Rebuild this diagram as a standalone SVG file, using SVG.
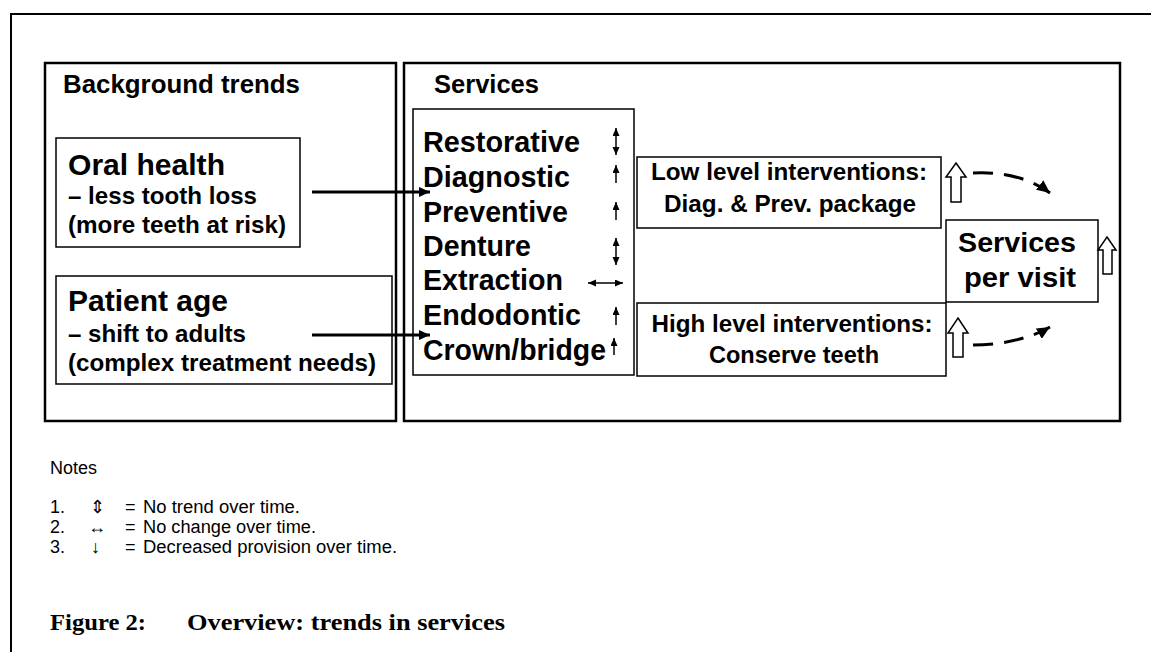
<svg xmlns="http://www.w3.org/2000/svg" width="1151" height="652" viewBox="0 0 1151 652">
<style>
.frame{fill:none;stroke:#000;stroke-width:2.5}
.box{fill:#fff;stroke:#000;stroke-width:1.5}
.b{font-family:"Liberation Sans",Arial,sans-serif;font-weight:bold;fill:#000}
.r{font-family:"Liberation Sans",Arial,sans-serif;fill:#000;font-size:18px}
.cap{font-family:"Liberation Serif","Times New Roman",serif;font-weight:bold;fill:#000}
.conn{fill:none;stroke:#000;stroke-width:3}
.dash{fill:none;stroke:#000;stroke-width:3;stroke-dasharray:20 11}
.thin{fill:none;stroke:#000;stroke-width:1.5}
.hollow{fill:#fff;stroke:#000;stroke-width:1.5;stroke-linejoin:miter}
</style>
<defs>
<marker id="ah" markerUnits="userSpaceOnUse" markerWidth="12" markerHeight="10" refX="11" refY="5" orient="auto"><path d="M0,0 L11,5 L0,10 z" fill="#000"/></marker>
<marker id="ahd" markerUnits="userSpaceOnUse" markerWidth="14" markerHeight="12" refX="13" refY="6" orient="auto"><path d="M0,0 L13,6 L0,12 z" fill="#000"/></marker>
<marker id="sm" markerUnits="userSpaceOnUse" markerWidth="8" markerHeight="8" refX="8" refY="3.5" orient="auto-start-reverse"><path d="M0,0 L8,3.5 L0,7 z" fill="#000"/></marker>
</defs>
<rect width="1151" height="652" fill="#fff"/>
<path d="M11,652 V14 H1151" fill="none" stroke="#000" stroke-width="2"/>

<g id="background-trends">
<rect class="frame" x="45" y="63" width="351" height="358"/>
<text class="b" x="63" y="93" font-size="26" textLength="237" lengthAdjust="spacingAndGlyphs">Background trends</text>
</g>
<g id="services">
<rect class="frame" x="404" y="63" width="716" height="358"/>
<text class="b" x="434" y="93" font-size="26" textLength="105" lengthAdjust="spacingAndGlyphs">Services</text>
</g>
<g id="oral-health">
<rect class="box" x="56" y="138" width="244" height="109"/>
<text class="b" x="68" y="175" font-size="30" textLength="157" lengthAdjust="spacingAndGlyphs">Oral health</text>
<text class="b" x="68" y="204" font-size="24" textLength="189" lengthAdjust="spacingAndGlyphs">– less tooth loss</text>
<text class="b" x="68" y="233" font-size="24" textLength="218" lengthAdjust="spacingAndGlyphs">(more teeth at risk)</text>
</g>
<g id="patient-age">
<rect class="box" x="56" y="276" width="336" height="108"/>
<text class="b" x="68" y="311" font-size="30" textLength="160" lengthAdjust="spacingAndGlyphs">Patient age</text>
<text class="b" x="68" y="342" font-size="24" textLength="178" lengthAdjust="spacingAndGlyphs">– shift to adults</text>
<text class="b" x="68" y="371" font-size="24" textLength="308" lengthAdjust="spacingAndGlyphs">(complex treatment needs)</text>
</g>
<g id="service-list">
<rect class="box" x="413" y="109" width="221" height="266"/>
<text class="b" x="423" y="152" font-size="29" textLength="157" lengthAdjust="spacingAndGlyphs">Restorative</text>
<text class="b" x="423" y="187" font-size="29" textLength="147" lengthAdjust="spacingAndGlyphs">Diagnostic</text>
<text class="b" x="423" y="222" font-size="29" textLength="145" lengthAdjust="spacingAndGlyphs">Preventive</text>
<text class="b" x="423" y="256" font-size="29" textLength="108" lengthAdjust="spacingAndGlyphs">Denture</text>
<text class="b" x="423" y="290" font-size="29" textLength="140" lengthAdjust="spacingAndGlyphs">Extraction</text>
<text class="b" x="423" y="325" font-size="29" textLength="158" lengthAdjust="spacingAndGlyphs">Endodontic</text>
<text class="b" x="423" y="360" font-size="29" textLength="183" lengthAdjust="spacingAndGlyphs">Crown/bridge</text>
<line class="thin" x1="616" y1="128" x2="616" y2="155" marker-start="url(#sm)" marker-end="url(#sm)"/>
<line class="thin" x1="616" y1="183" x2="616" y2="165" marker-end="url(#sm)"/>
<line class="thin" x1="616" y1="220" x2="616" y2="202" marker-end="url(#sm)"/>
<line class="thin" x1="616" y1="238" x2="616" y2="265" marker-start="url(#sm)" marker-end="url(#sm)"/>
<line class="thin" x1="588" y1="283" x2="623" y2="283" marker-start="url(#sm)" marker-end="url(#sm)"/>
<line class="thin" x1="616" y1="325" x2="616" y2="307" marker-end="url(#sm)"/>
<line class="thin" x1="614" y1="355" x2="614" y2="338" marker-end="url(#sm)"/>
</g>
<g id="low-level">
<rect class="box" x="637" y="157" width="304" height="71"/>
<text class="b" x="789" y="180" font-size="24" text-anchor="middle" textLength="276" lengthAdjust="spacingAndGlyphs">Low level interventions:</text>
<text class="b" x="790" y="212" font-size="24" text-anchor="middle" textLength="252" lengthAdjust="spacingAndGlyphs">Diag. &amp; Prev. package</text>
</g>
<g id="high-level">
<rect class="box" x="637" y="303" width="309" height="73"/>
<text class="b" x="792" y="332" font-size="24" text-anchor="middle" textLength="281" lengthAdjust="spacingAndGlyphs">High level interventions:</text>
<text class="b" x="794" y="363" font-size="24" text-anchor="middle" textLength="170" lengthAdjust="spacingAndGlyphs">Conserve teeth</text>
</g>
<g id="services-per-visit">
<rect class="box" x="946" y="220" width="152" height="82"/>
<text class="b" x="1017" y="252" font-size="28" text-anchor="middle" textLength="118" lengthAdjust="spacingAndGlyphs">Services</text>
<text class="b" x="1020" y="287" font-size="28" text-anchor="middle" textLength="112" lengthAdjust="spacingAndGlyphs">per visit</text>
</g>
<g id="connectors">
<line class="conn" x1="312" y1="192" x2="430" y2="192" marker-end="url(#ah)"/>
<line class="conn" x1="312" y1="335" x2="430" y2="335" marker-end="url(#ah)"/>
<path class="dash" d="M973,173 C1005,171 1033,180 1050,193" marker-end="url(#ahd)"/>
<path class="dash" d="M973,345 C1005,345 1033,337 1050,327" marker-end="url(#ahd)"/>
<polygon class="hollow" points="956,163 966,177 961,177 961,202 951,202 951,177 946,177"/>
<polygon class="hollow" points="958,318 968,333 963,333 963,357 953,357 953,333 948,333"/>
<polygon class="hollow" points="1107,237 1116,250 1112,250 1112,274 1103,274 1103,250 1098,250"/>
</g>
<g id="notes">
<text class="r" x="50" y="474" textLength="47" lengthAdjust="spacingAndGlyphs">Notes</text>
<text class="r" x="50" y="513">1.</text>
<text class="r" x="90" y="513" font-family="'DejaVu Sans',sans-serif">⇕</text>
<text class="r" x="125" y="513">=</text>
<text class="r" x="143" y="513" textLength="157" lengthAdjust="spacingAndGlyphs">No trend over time.</text>
<text class="r" x="50" y="533">2.</text>
<text class="r" x="88" y="533" font-family="'DejaVu Sans',sans-serif">↔</text>
<text class="r" x="125" y="533">=</text>
<text class="r" x="143" y="533" textLength="173" lengthAdjust="spacingAndGlyphs">No change over time.</text>
<text class="r" x="50" y="553">3.</text>
<text class="r" x="91" y="553" font-family="'DejaVu Sans',sans-serif">↓</text>
<text class="r" x="125" y="553">=</text>
<text class="r" x="143" y="553" textLength="254" lengthAdjust="spacingAndGlyphs">Decreased provision over time.</text>
</g>
<g id="caption">
<text class="cap" x="50" y="630" font-size="23" textLength="96" lengthAdjust="spacingAndGlyphs">Figure 2:</text>
<text class="cap" x="187" y="630" font-size="23" textLength="318" lengthAdjust="spacingAndGlyphs">Overview: trends in services</text>
</g>
</svg>
